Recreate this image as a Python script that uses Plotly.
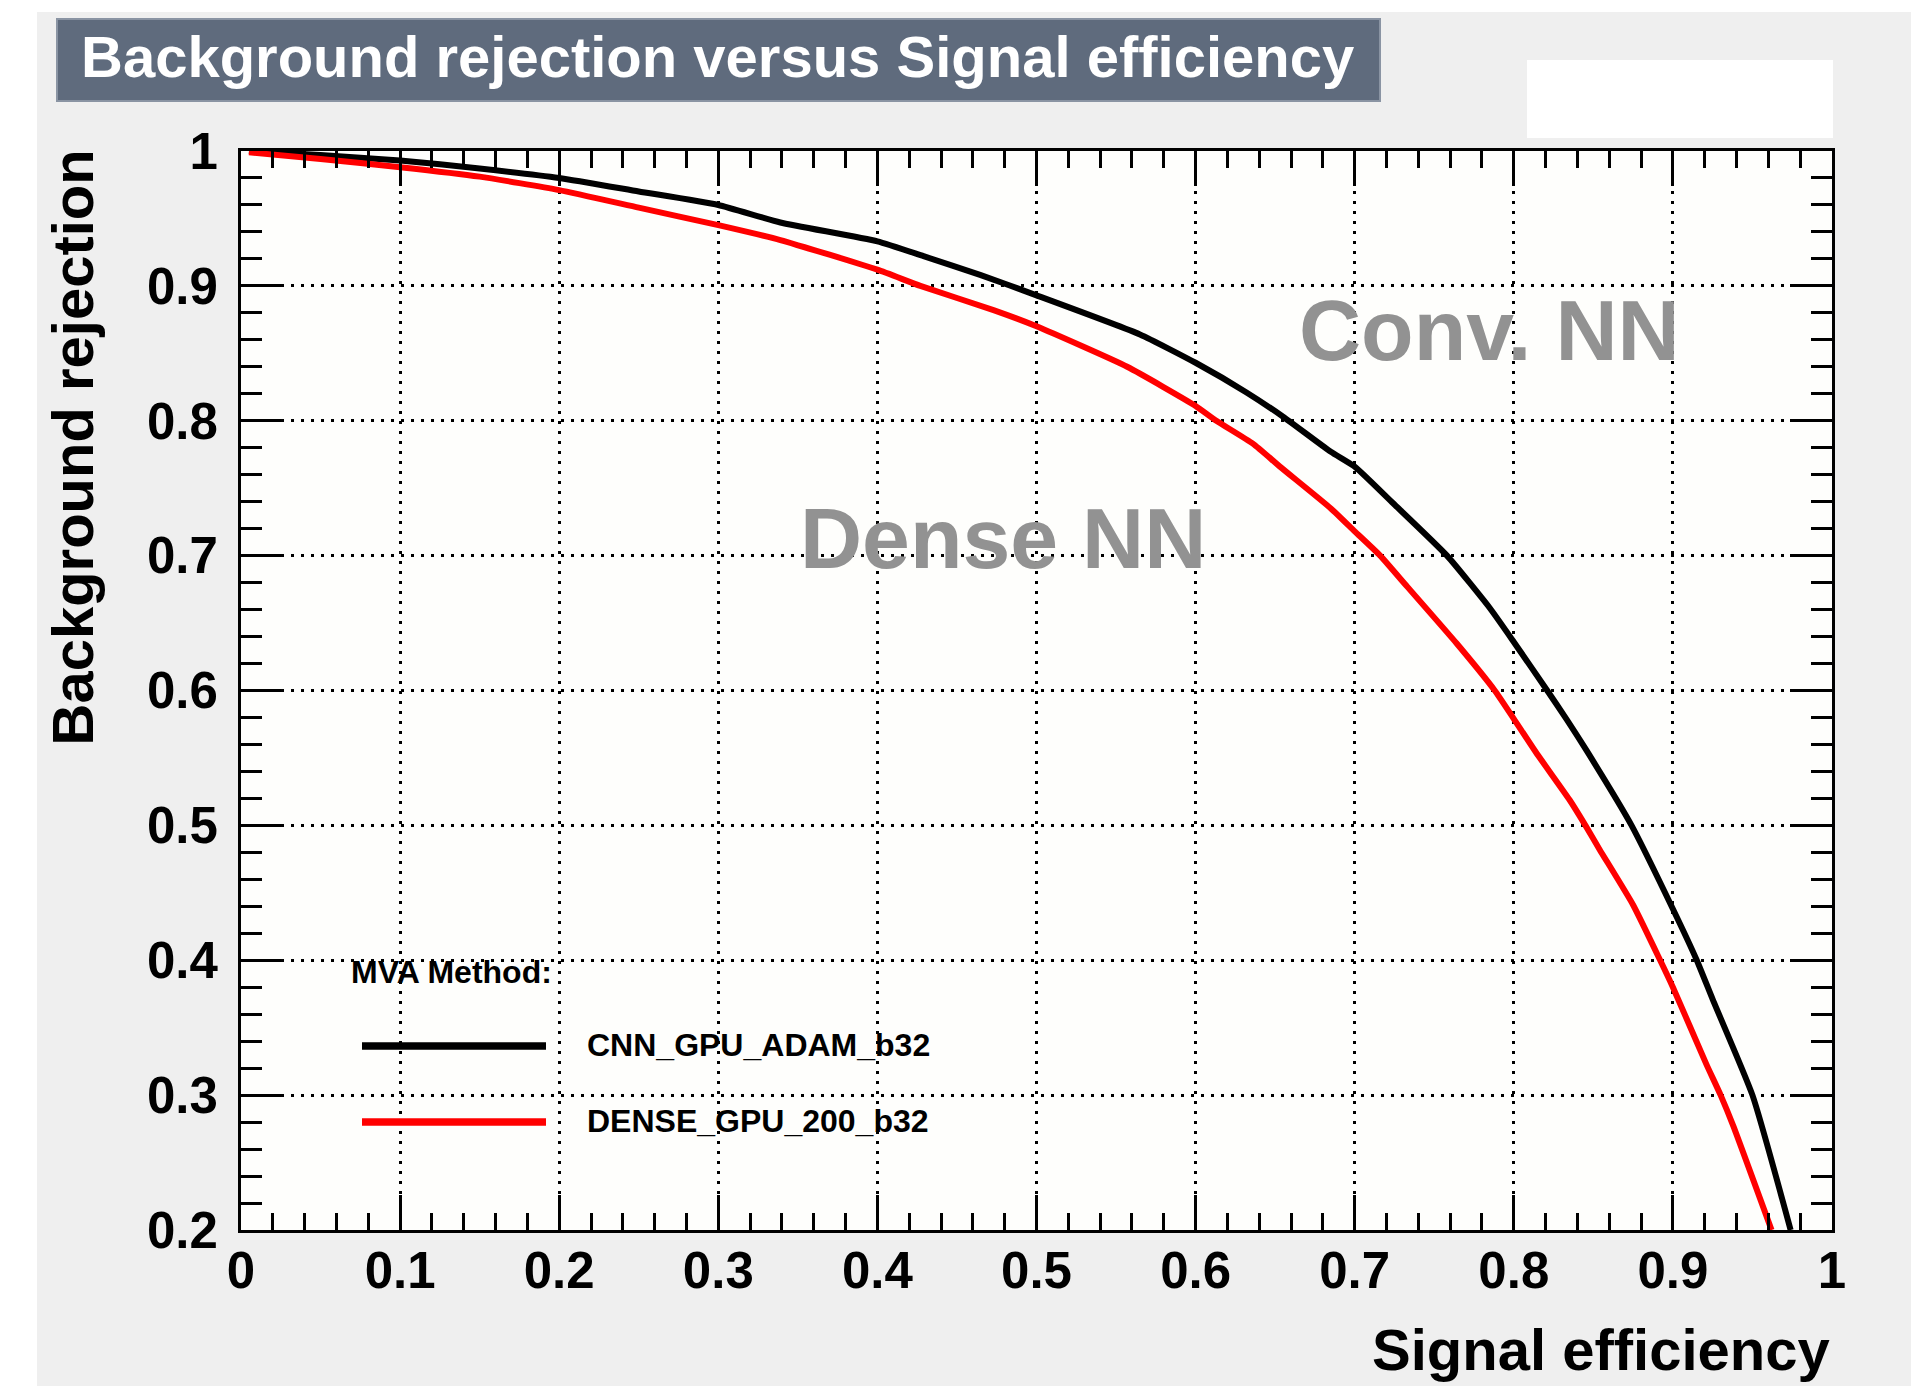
import plotly.graph_objects as go

# ---------------- data ----------------
series_names = ["CNN_GPU_ADAM_b32", "DENSE_GPU_200_b32"]

sig_eff_cnn = [0.005, 0.05, 0.1, 0.15, 0.2, 0.25, 0.3, 0.339, 0.4, 0.429, 0.465, 0.5,
               0.565, 0.6, 0.632, 0.655, 0.685, 0.7, 0.724, 0.758, 0.785, 0.8, 0.821,
               0.833, 0.846, 0.874, 0.9, 0.915, 0.925, 0.95, 0.974]
bkg_rej_cnn = [1.0, 0.997, 0.993, 0.987, 0.980, 0.970, 0.960, 0.947, 0.933, 0.922, 0.908, 0.893,
               0.864, 0.843, 0.821, 0.803, 0.777, 0.766, 0.739, 0.700, 0.661, 0.636, 0.600,
               0.579, 0.555, 0.500, 0.438, 0.400, 0.371, 0.300, 0.200]

sig_eff_dense = [0.005, 0.05, 0.1, 0.15, 0.2, 0.25, 0.3, 0.339, 0.4, 0.427, 0.473, 0.5,
                 0.557, 0.6, 0.613, 0.636, 0.653, 0.685, 0.7, 0.716, 0.733, 0.764, 0.788,
                 0.8, 0.814, 0.835, 0.845, 0.854, 0.875, 0.892, 0.9, 0.921, 0.93, 0.938, 0.962]
bkg_rej_dense = [0.999, 0.994, 0.988, 0.981, 0.971, 0.958, 0.945, 0.934, 0.912, 0.900, 0.882, 0.870,
                 0.840, 0.811, 0.800, 0.783, 0.766, 0.735, 0.718, 0.700, 0.677, 0.635, 0.600,
                 0.579, 0.554, 0.519, 0.500, 0.482, 0.441, 0.400, 0.380, 0.323, 0.300, 0.277, 0.200]

x_tick_vals = [0, 0.1, 0.2, 0.3, 0.4, 0.5, 0.6, 0.7, 0.8, 0.9, 1.0]
x_tick_text = ["0", "0.1", "0.2", "0.3", "0.4", "0.5", "0.6", "0.7", "0.8", "0.9", "1"]
y_tick_vals = [0.2, 0.3, 0.4, 0.5, 0.6, 0.7, 0.8, 0.9, 1.0]
y_tick_text = ["0.2", "0.3", "0.4", "0.5", "0.6", "0.7", "0.8", "0.9", "1"]

title_text = "Background rejection versus Signal efficiency"
x_title = "Signal efficiency"
y_title = "Background rejection"
legend_header = "MVA Method:"
label_conv = "Conv. NN"
label_dense = "Dense NN"

# ---------------- layout geometry ----------------
W, H = 1911, 1386
L, R, T, B = 241, 1832, 151, 1230
FONT = "Liberation Sans, Arial, Helvetica, sans-serif"


def px(x):
    return (x - L) / (R - L)


def py(y):
    return (B - y) / (B - T)


fig = go.Figure()
fig.add_trace(go.Scatter(x=sig_eff_cnn, y=bkg_rej_cnn, mode="lines", name=series_names[0],
                         line=dict(color="#000000", width=6, shape="spline", smoothing=0.5),
                         showlegend=False))
fig.add_trace(go.Scatter(x=sig_eff_dense, y=bkg_rej_dense, mode="lines", name=series_names[1],
                         line=dict(color="#ff0000", width=6, shape="spline", smoothing=0.5),
                         showlegend=False))

axis_common = dict(
    showline=True, linewidth=3, linecolor="#000000", mirror="allticks",
    ticks="inside", tickwidth=3, tickcolor="#000000",
    showgrid=True, gridcolor="#000000", gridwidth=3, griddash="3px,7px",
    zeroline=False, fixedrange=True,
    tickfont=dict(family=FONT, size=51, color="#000000", weight="bold"),
)

fig.update_xaxes(range=[0, 1], tickvals=x_tick_vals, ticktext=x_tick_text, ticklen=35,
                 ticklabelstandoff=-6,
                 minor=dict(dtick=0.02, ticks="inside", ticklen=17, tickwidth=3,
                            tickcolor="#000000", showgrid=False),
                 **axis_common)
fig.update_yaxes(range=[0.2, 1], tickvals=y_tick_vals, ticktext=y_tick_text, ticklen=42,
                 ticklabelstandoff=10,
                 minor=dict(dtick=0.02, ticks="inside", ticklen=21, tickwidth=3,
                            tickcolor="#000000", showgrid=False),
                 **axis_common)

shapes = [
    # white page strips around the grey canvas
    dict(type="rect", xref="paper", yref="paper", x0=px(0), x1=px(W), y0=py(12), y1=py(0),
         fillcolor="#ffffff", line=dict(width=0), layer="below"),
    dict(type="rect", xref="paper", yref="paper", x0=px(0), x1=px(37), y0=py(H), y1=py(0),
         fillcolor="#ffffff", line=dict(width=0), layer="below"),
    # title box
    dict(type="rect", xref="paper", yref="paper", x0=px(57), x1=px(1380), y0=py(101), y1=py(19),
         fillcolor="#5f6b7d", line=dict(color="#8a94a3", width=2), layer="below"),
    # white box top right
    dict(type="rect", xref="paper", yref="paper", x0=px(1527), x1=px(1833), y0=py(138), y1=py(60),
         fillcolor="#ffffff", line=dict(width=0), layer="below"),
    # legend samples
    dict(type="line", xref="paper", yref="paper", x0=px(362), x1=px(546), y0=py(1046), y1=py(1046),
         line=dict(color="#000000", width=7.5)),
    dict(type="line", xref="paper", yref="paper", x0=px(362), x1=px(546), y0=py(1122), y1=py(1122),
         line=dict(color="#ff0000", width=7.5)),
]

annotations = [
    dict(text=title_text, xref="paper", yref="paper", x=px(79), y=py(56), xanchor="left",
         yanchor="middle", showarrow=False,
         font=dict(family=FONT, size=58, color="#ffffff", weight="bold")),
    dict(text=x_title, xref="paper", yref="paper", x=px(1832), y=py(1349), xanchor="right",
         yanchor="middle", showarrow=False,
         font=dict(family=FONT, size=58, color="#000000", weight="bold")),
    dict(text=y_title, xref="paper", yref="paper", x=px(71.5), y=py(448), xanchor="center",
         yanchor="middle", textangle=-90, showarrow=False,
         font=dict(family=FONT, size=58, color="#000000", weight="bold")),
    dict(text=label_conv, xref="paper", yref="paper", x=px(1489), y=py(330), xanchor="center",
         yanchor="middle", showarrow=False,
         font=dict(family=FONT, size=86, color="#929292", weight="bold")),
    dict(text=label_dense, xref="paper", yref="paper", x=px(1003), y=py(538), xanchor="center",
         yanchor="middle", showarrow=False,
         font=dict(family=FONT, size=86, color="#929292", weight="bold")),
    dict(text=legend_header, xref="paper", yref="paper", x=px(349), y=py(972), xanchor="left",
         yanchor="middle", showarrow=False,
         font=dict(family=FONT, size=32, color="#000000", weight="bold")),
    dict(text=series_names[0], xref="paper", yref="paper", x=px(585), y=py(1045), xanchor="left",
         yanchor="middle", showarrow=False,
         font=dict(family=FONT, size=32, color="#000000", weight="bold")),
    dict(text=series_names[1], xref="paper", yref="paper", x=px(585), y=py(1121), xanchor="left",
         yanchor="middle", showarrow=False,
         font=dict(family=FONT, size=32, color="#000000", weight="bold")),
]

fig.update_layout(
    width=W, height=H,
    margin=dict(l=L, r=W - R, t=T, b=H - B, pad=0),
    paper_bgcolor="#efefef", plot_bgcolor="#fefefc",
    shapes=shapes, annotations=annotations, showlegend=False,
    font=dict(family=FONT, color="#000000"),
)

fig.write_html("out.html")
